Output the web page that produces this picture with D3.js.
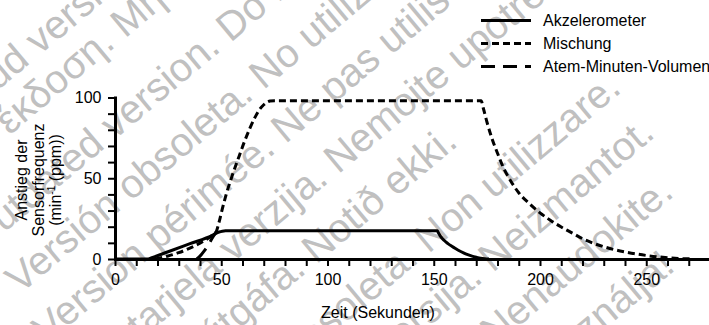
<!DOCTYPE html>
<html>
<head>
<meta charset="utf-8">
<script src="https://cdn.jsdelivr.net/npm/d3@7"></script>
<style>
html,body{margin:0;padding:0;background:#fff;}
svg{display:block;font-family:"Liberation Sans",Arial,Helvetica,sans-serif;}
</style>
</head>
<body>
<svg id="chart" width="709" height="325"></svg>
<script>
// ---------- data ----------
const seriesNames = ["Akzelerometer", "Mischung", "Atem-Minuten-Volumen"];

const akzT = [0, 15.7, 17, 25, 35, 46, 47.5, 49, 50.5, 52, 54, 151.7, 152.1, 152.6, 153.2, 153.9, 154.8, 155.8, 157, 158.5, 160.2, 162, 164, 166, 168, 170, 172, 174, 176];
const akzV = [0, 0, 0.6, 4.5, 9.4, 14.8, 15.9, 16.7, 17.2, 17.45, 17.5, 17.5, 16.4, 15.3, 14, 12.8, 11.6, 10.4, 9.2, 7.9, 6.5, 5.1, 3.8, 2.7, 1.8, 1.1, 0.5, 0.15, 0];

const mixT = [19, 21, 25, 30, 35, 40, 44, 46.5, 47.8, 49, 50.5, 52, 55, 58.5, 61, 63.5, 66, 68, 70, 71.5, 73, 75, 172.3, 173.3, 175, 177.3, 180, 183, 186, 190, 195, 200, 205, 210, 215, 220, 225, 230, 235, 240, 245, 250, 255, 260, 265, 270, 272];
const mixV = [0, 0.6, 1.9, 3.9, 6.6, 9.8, 13, 15.5, 17.5, 23, 31, 38.5, 51, 64, 73, 81, 88, 92.5, 95.5, 97, 97.8, 98, 98, 93.5, 85, 75, 65.5, 56, 48.8, 41, 34.3, 28.6, 23.9, 19.8, 16.2, 12.6, 9.8, 7.6, 5.8, 4.4, 3.2, 2.2, 1.4, 0.8, 0.35, 0.1, 0];

const amvT = [38.5, 40, 42, 44, 46, 47.5];
const amvV = [0, 1.8, 5, 9, 13.5, 16.5];

const xTicks = [0, 10, 20, 30, 40, 50, 60, 70, 80, 90, 100, 110, 120, 130, 140, 150, 160, 170, 180, 190, 200, 210, 220, 230, 240, 250, 260, 270, 280];
const xLabels = [0, 50, 100, 150, 200, 250];
const yTicks = [0, 10, 20, 30, 40, 50, 60, 70, 80, 90, 100];
const yLabels = [0, 50, 100];

const xTitle = "Zeit (Sekunden)";
const yTitle1 = "Anstieg der";
const yTitle2 = "Sensorfrequenz";

// background watermark text
const wmFirst = ["Aegunud versioon.", "Παλιά έκδοση.", "Outdated version.", "Versión obsoleta.", "Version périmée.", "Zastarjela verzija.", "Úrelt útgáfa.", "Versione obsoleta.", "Novecojusi versija.", "Pasenusi versija.", "Elavult verzió."];
const wmSecond = ["Ärge kasutage.", "Μην την χρησιμοποιείτε.", "Do not use.", "No utilizar.", "Ne pas utiliser.", "Nemojte upotrebljavati.", "Notið ekki.", "Non utilizzare.", "Neizmantot.", "Nenaudokite.", "Ne használja!"];
// layout of the rotated watermark lines: where the 2nd sentence begins, and the baseline offset
const wmAnchor = [168, 71, 149, 144, 126, 147, 72, 165, 202, 156, 103];
const wmBase = [68, 110, 181, 238.5, 294, 351, 406, 470, 526, 583.5, 641];

// ---------- drawing ----------
const svg = d3.select("#chart");
const FONT = '"Liberation Sans",Arial,Helvetica,sans-serif';

// watermark
const wm = svg.append("g")
  .attr("transform", "rotate(-40)")
  .attr("font-family", FONT)
  .attr("font-size", 40)
  .attr("fill", "#c0c0c0");
wmFirst.forEach((f, i) => {
  wm.append("text").attr("x", wmAnchor[i]).attr("y", wmBase[i]).attr("text-anchor", "end").text(f + "\u00a0");
  wm.append("text").attr("x", wmAnchor[i]).attr("y", wmBase[i]).text(wmSecond[i]);
});

const x = d3.scaleLinear().domain([0, 280]).range([115, 710]);
const y = d3.scaleLinear().domain([0, 100]).range([259, 97.5]);

// axes
const xAxis = d3.axisBottom(x)
  .tickValues(xTicks)
  .tickFormat(d => xLabels.includes(d) ? String(d) : "")
  .tickSize(7).tickSizeOuter(0).tickPadding(7.5);
const gx = svg.append("g").attr("transform", `translate(0,${y(0)})`).call(xAxis);

const yAxis = d3.axisLeft(y)
  .tickValues(yTicks)
  .tickFormat(d => yLabels.includes(d) ? String(d) : "")
  .tickSize(7).tickSizeOuter(0).tickPadding(6.5);
const gy = svg.append("g").attr("transform", `translate(${x(0)},0)`).call(yAxis);

[gx, gy].forEach(g => {
  g.attr("font-family", FONT).attr("font-size", 16);
  g.select(".domain").attr("stroke", "#000").attr("stroke-width", 3).attr("stroke-linecap", "square");
  g.selectAll(".tick line").attr("stroke", "#000").attr("stroke-width", 2);
  g.selectAll(".tick text").attr("fill", "#000");
});

// series lines
const line = d3.line().x(d => x(d[0])).y(d => y(d[1])).curve(d3.curveMonotoneX);
const zip = (a, b) => a.map((t, i) => [t, b[i]]);

svg.append("path").datum(zip(mixT, mixV)).attr("d", line)
  .attr("fill", "none").attr("stroke", "#000").attr("stroke-width", 3)
  .attr("stroke-dasharray", "7,4");
svg.append("path").datum(zip(amvT, amvV)).attr("d", line)
  .attr("fill", "none").attr("stroke", "#000").attr("stroke-width", 3)
  .attr("stroke-dasharray", "14,8");
svg.append("path").datum(zip(akzT, akzV)).attr("d", line)
  .attr("fill", "none").attr("stroke", "#000").attr("stroke-width", 3);

// axis titles
svg.append("text").attr("x", 378).attr("y", 318).attr("text-anchor", "middle")
  .attr("font-family", FONT).attr("font-size", 16).attr("fill", "#000").text(xTitle);

const yT = [yTitle1, yTitle2];
const yTx = [26.5, 43.8, 61];
yT.forEach((t, i) => {
  svg.append("text").attr("transform", `translate(${yTx[i]},180) rotate(-90)`)
    .attr("text-anchor", "middle").attr("font-family", FONT).attr("font-size", 16)
    .attr("fill", "#000").text(t);
});
const t3 = svg.append("text").attr("transform", `translate(${yTx[2]},180) rotate(-90)`)
  .attr("text-anchor", "middle").attr("font-family", FONT).attr("font-size", 16).attr("fill", "#000");
t3.append("tspan").text("(min");
t3.append("tspan").attr("font-size", 10).attr("dy", -6).text("-1");
t3.append("tspan").attr("dy", 6).text(" (ppm))");

// legend
const dashes = [null, "7,4", "14,8"];
const lg = svg.append("g");
seriesNames.forEach((n, i) => {
  const yy = 20.5 + 23 * i;
  const l = lg.append("line").attr("x1", 481).attr("x2", 531).attr("y1", yy).attr("y2", yy)
    .attr("stroke", "#000").attr("stroke-width", 3);
  if (dashes[i]) l.attr("stroke-dasharray", dashes[i]);
  lg.append("text").attr("x", 543).attr("y", yy).attr("dy", "0.35em")
    .attr("font-family", FONT).attr("font-size", 16).attr("fill", "#000").text(n);
});
</script>
</body>
</html>
